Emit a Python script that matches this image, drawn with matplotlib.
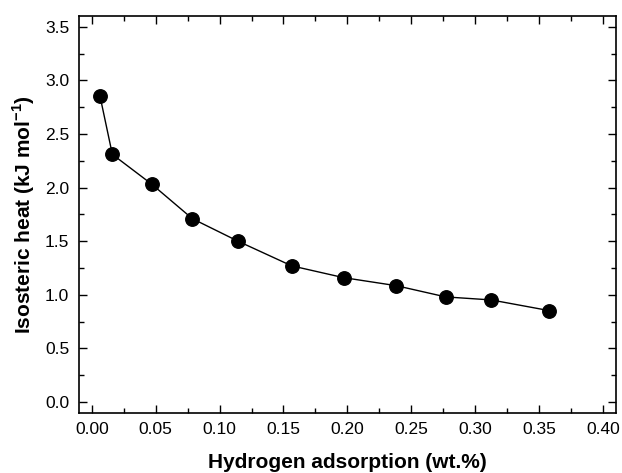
import matplotlib
matplotlib.use('Agg')
import matplotlib.pyplot as plt
from matplotlib.ticker import MultipleLocator

plt.rcParams['font.family'] = ['Liberation Sans', 'DejaVu Sans']
plt.rcParams['mathtext.fontset'] = 'custom'
plt.rcParams['mathtext.rm'] = 'Liberation Sans'
plt.rcParams['mathtext.bf'] = 'Liberation Sans:bold'

# hydrogen uptake (wt.%) and isosteric heat (kJ/mol)
uptake = [0.0065, 0.0161, 0.0471, 0.0787, 0.1144, 0.1564, 0.197, 0.2382, 0.277, 0.3125, 0.3576]
heat = [2.85, 2.31, 2.03, 1.71, 1.50, 1.27, 1.16, 1.085, 0.98, 0.952, 0.853]

fig = plt.figure(figsize=(6.22, 4.73), dpi=100)
ax = fig.add_axes([0.127, 0.1275, 0.863, 0.8385])

ax.plot(uptake, heat, color='k', lw=1.0, marker='o', ms=9.7, mfc='k', mec='k')

ax.set_xlim(-0.01, 0.41)
ax.set_ylim(-0.1, 3.6)
ax.xaxis.set_major_locator(MultipleLocator(0.05))
ax.xaxis.set_minor_locator(MultipleLocator(0.025))
ax.yaxis.set_major_locator(MultipleLocator(0.5))
ax.yaxis.set_minor_locator(MultipleLocator(0.25))
ax.xaxis.set_major_formatter(plt.FormatStrFormatter('%.2f'))
ax.yaxis.set_major_formatter(plt.FormatStrFormatter('%.1f'))

ax.tick_params(which='both', direction='in', top=True, right=True, width=1.0, labelsize=12.5)
ax.tick_params(which='major', length=6, pad=7)
ax.tick_params(which='minor', length=3.5)
for s in ax.spines.values():
    s.set_linewidth(1.2)

ax.set_xlabel('Hydrogen adsorption (wt.%)', fontsize=15, fontweight='bold', labelpad=11)
ax.set_ylabel('Isosteric heat (kJ mol$^{\\mathbf{-1}}$)', fontsize=15, fontweight='bold', labelpad=6)

fig.savefig('out.png', dpi=100)
